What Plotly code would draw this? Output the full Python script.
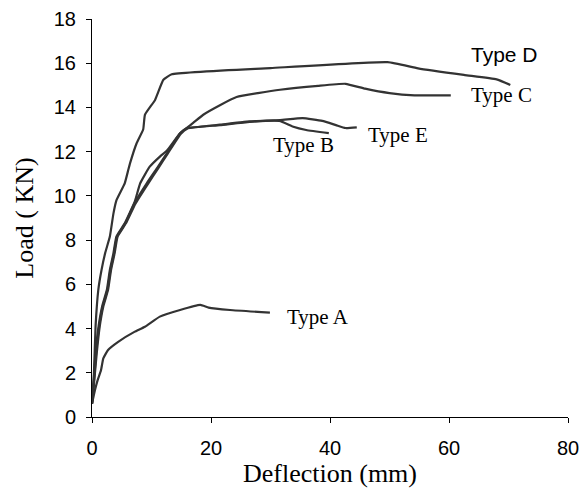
import plotly.graph_objects as go

# Data
type_a_x = [0, 0.5, 0.95, 1.5, 1.9, 2.7, 4.4, 7.2, 8.9, 11.4, 14.8, 18.2, 19.6, 23.2, 29.9]
type_a_y = [0.6, 1.22, 1.67, 2.1, 2.65, 3.03, 3.4, 3.86, 4.08, 4.54, 4.84, 5.07, 4.95, 4.84, 4.72]

type_d_x = [0, 0.3, 0.6, 1.06, 1.6, 2.2, 3.0, 3.6, 4.1, 5.5, 6.1, 6.4, 7.5, 8.6, 8.9, 10.6, 12.0, 13.4, 30, 49.7, 54.8, 62.5, 68, 70.3]
type_d_y = [0.6, 1.8, 4.1, 5.75, 6.65, 7.4, 8.16, 9.2, 9.8, 10.57, 11.18, 11.48, 12.38, 13.0, 13.67, 14.34, 15.25, 15.5, 15.78, 16.05, 15.77, 15.47, 15.27, 15.02]

type_c_x = [0, 0.3, 0.6, 1.1, 1.7, 2.5, 3.0, 3.6, 4.1, 5.5, 7.2, 8.1, 9.7, 11.5, 12.6, 14.8, 17.0, 18.7, 21.5, 24.3, 31.6, 38, 42.6, 45.9, 50, 54.2, 60.3]
type_c_y = [0.6, 1.7, 2.9, 4.1, 5.0, 5.75, 6.65, 7.4, 8.16, 8.76, 9.75, 10.57, 11.32, 11.8, 12.05, 12.83, 13.3, 13.67, 14.1, 14.47, 14.8, 14.98, 15.07, 14.85, 14.65, 14.55, 14.55]

type_b_x = [0, 0.35, 0.7, 1.2, 1.8, 2.6, 3.1, 3.7, 4.2, 5.6, 7.2, 9.2, 11.1, 12.6, 14.8, 15.9, 21.5, 26.5, 31.5, 33.7, 36, 39.8]
type_b_y = [0.6, 1.7, 2.9, 4.1, 5.0, 5.75, 6.65, 7.4, 8.16, 8.76, 9.7, 10.57, 11.32, 11.93, 12.83, 13.06, 13.2, 13.35, 13.39, 13.14, 12.98, 12.84]

type_e_x = [0, 0.4, 0.8, 1.3, 1.9, 2.7, 3.2, 3.8, 4.3, 5.7, 7.3, 9.3, 11.2, 12.7, 14.9, 16.0, 21.5, 26.5, 31.6, 35.4, 38.7, 41, 42.6, 44.5]
type_e_y = [0.6, 1.7, 2.9, 4.1, 5.0, 5.75, 6.65, 7.4, 8.16, 8.76, 9.65, 10.5, 11.28, 11.9, 12.8, 13.04, 13.22, 13.37, 13.43, 13.52, 13.39, 13.2, 13.07, 13.1]

labels = ["Type D", "Type C", "Type E", "Type B", "Type A"]
label_x = [69.4, 68.9, 51.4, 35.6, 37.9]
label_y = [16.38, 14.55, 12.76, 12.28, 4.54]
label_fonts = ["Arial, Liberation Sans, sans-serif"] + ["Times New Roman, Liberation Serif, serif"] * 4

x_ticks = [0, 20, 40, 60, 80]
y_ticks = [0, 2, 4, 6, 8, 10, 12, 14, 16, 18]

LINE = dict(color="#333333", width=2.2, shape="spline", smoothing=0.4)

fig = go.Figure()
for xs, ys in [(type_a_x, type_a_y), (type_d_x, type_d_y), (type_c_x, type_c_y),
               (type_b_x, type_b_y), (type_e_x, type_e_y)]:
    fig.add_trace(go.Scatter(x=xs, y=ys, mode="lines", line=LINE, showlegend=False,
                             hoverinfo="skip", cliponaxis=False))

for t, x, y, f in zip(labels, label_x, label_y, label_fonts):
    fig.add_annotation(x=x, y=y, text=t, showarrow=False, xanchor="center", yanchor="middle",
                       font=dict(family=f, size=21, color="black"))

serif = "Times New Roman, Liberation Serif, serif"
sans = "Arial, Liberation Sans, sans-serif"

fig.update_layout(
    width=579, height=494,
    margin=dict(l=92, r=11, t=19, b=77),
    paper_bgcolor="white", plot_bgcolor="white",
    xaxis=dict(range=[0, 80], tickvals=x_ticks, showgrid=False, zeroline=False,
               showline=True, linecolor="black", linewidth=1, automargin=False,
               ticks="outside", ticklen=5, tickcolor="black", ticklabeloverflow="allow",
               ticklabelstandoff=8,
               tickfont=dict(family=sans, size=20, color="black"),
               title=dict(text="Deflection (mm)", font=dict(family=serif, size=26, color="black"), standoff=2)),
    yaxis=dict(range=[0, 18], tickvals=y_ticks, showgrid=False, zeroline=False,
               showline=True, linecolor="black", linewidth=1, automargin=False,
               ticks="outside", ticklen=5, tickcolor="black", ticklabeloverflow="allow",
               ticklabelstandoff=6,
               tickfont=dict(family=sans, size=20, color="black"),
               title=dict(text="Load ( KN)", font=dict(family=serif, size=26, color="black"), standoff=12)),
)

fig.write_html("out.html", config={"displayModeBar": False},
               post_script="document.body.style.margin='0';document.body.style.overflow='hidden';")
